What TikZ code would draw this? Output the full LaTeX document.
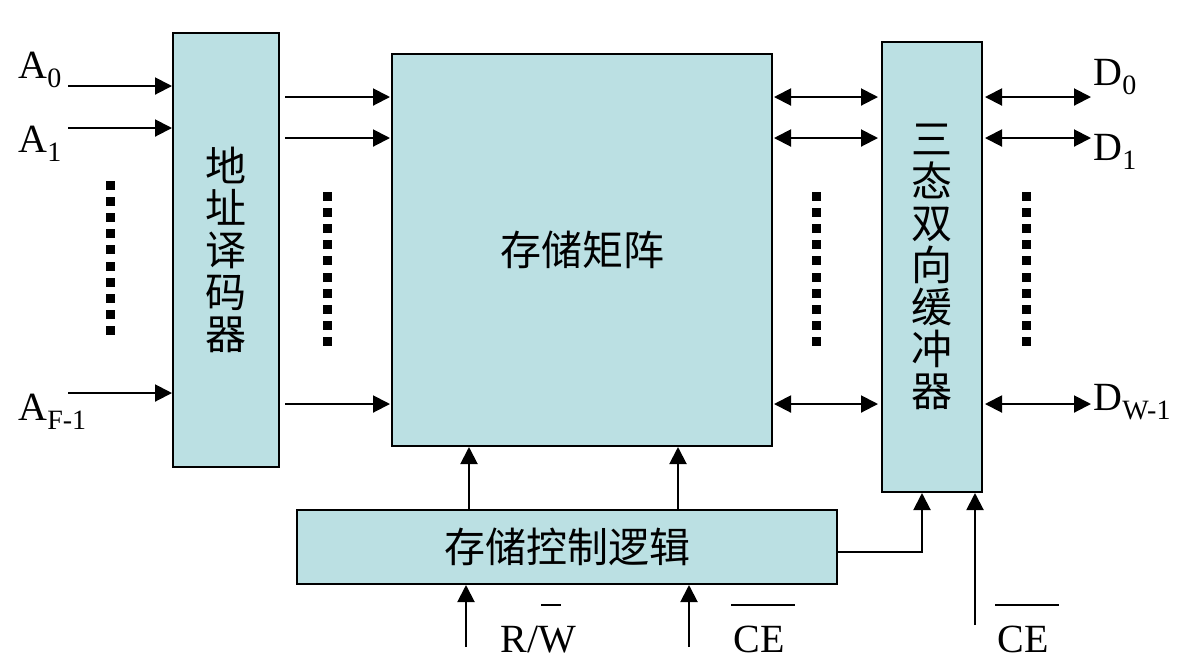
\documentclass[tikz,border=0pt]{standalone}
\usepackage{fontspec}
\setmainfont{Liberation Serif}
\newfontfamily\cjk{Noto Sans CJK SC}
\usetikzlibrary{arrows.meta,calc}
\definecolor{boxfill}{HTML}{BBE0E3}
\newcommand\sbs[1]{\lower4.5pt\hbox{\fontsize{14}{14}\selectfont #1}}
\begin{document}
\begin{tikzpicture}[x=0.5pt,y=-0.5pt,
  box/.style={draw=black, line width=1pt, fill=boxfill, inner sep=0pt},
  arr/.style={line width=1pt, -{Triangle[length=8.5pt,width=8.5pt]}},
  darr/.style={line width=1pt, {Triangle[length=8.5pt,width=8.5pt]}-{Triangle[length=8.5pt,width=8.5pt]}},
  lbl/.style={font=\fontsize{20}{24}\selectfont, inner sep=0pt, anchor=base west},
  cn/.style={font=\cjk\fontsize{20.5}{20.5}\selectfont},
  vcn/.style={font=\cjk\fontsize{20.5}{21}\selectfont, align=center},
  bar/.style={line width=0.75pt}
]
\useasboundingbox (0,0) rectangle (1184,661);

% boxes
\node[box, vcn, minimum width=53pt, minimum height=217pt] (dec) at (226,250) {地\\址\\译\\码\\器};
\node[box, cn, minimum width=190pt, minimum height=196pt] (mat) at (582,250) {存储矩阵};
\node[box, vcn, minimum width=50pt, minimum height=225pt] (buf) at (932,267) {三\\态\\双\\向\\缓\\冲\\器};
\node[box, cn, minimum width=270pt, minimum height=37pt] (ctl) at (567,547) {存储控制逻辑};

% labels
\node[lbl] (A0) at (18,78) {A\sbs{0}};
\node[lbl] (A1) at (18,152) {A\sbs{1}};
\node[lbl] (AF) at (18,420) {A\sbs{F-1}};
\node[lbl] (D0) at (1093,85) {D\sbs{0}};
\node[lbl] (D1) at (1093,160) {D\sbs{1}};
\node[lbl] (DW) at (1093,410) {D\sbs{W-1}};
\node[lbl] (RW) at (500,652) {R/W};
\node[lbl] (CE1) at (733,652) {CE};
\node[lbl] (CE2) at (997,652) {CE};
\draw[bar] (541,605) -- (561,605);
\draw[bar] (731,605) -- (795,605);
\draw[bar] (995,605) -- (1059,605);

% address inputs
\coordinate (a0) at (68,86);
\coordinate (a1) at (68,128);
\coordinate (af) at (68,393);
\foreach \c in {a0,a1,af} \draw[arr] (\c) -- (\c -| dec.west);

% decoder -> matrix
\coordinate (r1) at (0,97);
\coordinate (r2) at (0,138);
\coordinate (r3) at (0,404);
\foreach \c in {r1,r2,r3} {
  \draw[arr] ($(\c -| dec.east)+(5,0)$) -- ($(\c -| mat.west)+(-1,0)$);
  \draw[darr] ($(\c -| mat.east)+(1,0)$) -- ($(\c -| buf.west)+(-3,0)$);
  \draw[darr] ($(\c -| buf.east)+(2,0)$) -- ($(\c -| buf.east)+(108,0)$);
}

% control -> matrix
\coordinate (u1) at (469,0);
\coordinate (u2) at (678,0);
\draw[arr] (u1 |- ctl.north) -- (u1 |- mat.south);
\draw[arr] (u2 |- ctl.north) -- (u2 |- mat.south);

% control -> buffer
\coordinate (cb) at (922,552);
\draw[arr] (cb -| ctl.east) -- (cb) -- (cb |- buf.south);

% bottom inputs
\coordinate (rw) at (466,647);
\coordinate (ce1) at (689,647);
\coordinate (ce2) at (975,625);
\draw[arr] (rw) -- (rw |- ctl.south);
\draw[arr] (ce1) -- (ce1 |- ctl.south);
\draw[arr] (ce2) -- (ce2 |- buf.south);

% ellipsis dots
\foreach \x/\y in {110/185.5, 327.5/196.5, 816/196.5, 1026/196.5}
  \foreach \k in {0,...,9}
    \fill ({\x-4.5},{\y+16.1*\k-4.5}) rectangle ++(9,9);
\end{tikzpicture}
\end{document}
